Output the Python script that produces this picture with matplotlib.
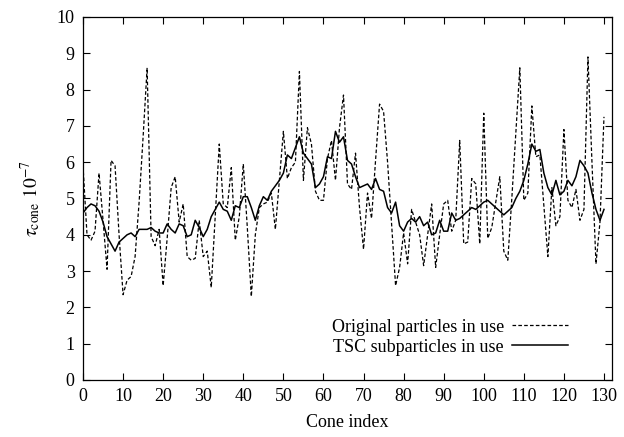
import numpy as np
import matplotlib
matplotlib.use("Agg")
import matplotlib.pyplot as plt

plt.rcParams['font.family'] = ['Liberation Serif', 'DejaVu Serif']
plt.rcParams['mathtext.fontset'] = 'stix'
plt.rcParams['lines.scale_dashes'] = False

original = [5.9, 4.0, 3.85, 4.1, 5.7, 4.4, 3.05, 6.05, 5.9, 4.0,
            2.35, 2.75, 2.85, 3.4, 4.9, 6.7, 8.6, 3.95, 3.7, 4.15,
            2.6, 3.9, 5.3, 5.6, 4.35, 4.85, 3.4, 3.3, 3.35, 4.4,
            3.4, 3.55, 2.55, 4.5, 6.5, 4.85, 4.75, 5.85, 3.85, 4.5,
            5.95, 4.2, 2.3, 4.0, 4.75, 4.85, 4.9, 5.15, 4.15, 5.5,
            6.85, 5.55, 5.85, 6.0, 8.5, 5.5, 6.95, 6.5, 5.2, 4.95,
            4.95, 6.1, 6.6, 5.5, 6.95, 7.85, 5.4, 5.25, 6.25, 4.75,
            3.6, 5.15, 4.45, 6.05, 7.6, 7.4, 6.0, 4.3, 2.6, 3.1,
            4.05, 3.2, 4.7, 4.35, 4.0, 3.15, 4.0, 4.85, 3.1, 4.0,
            4.85, 4.95, 4.1, 4.4, 6.6, 3.75, 3.8, 5.55, 5.4, 3.75,
            7.35, 3.9, 4.2, 4.9, 5.6, 3.55, 3.3, 5.0, 6.8, 8.6,
            4.95, 5.15, 7.55, 6.15, 6.2, 4.8, 3.4, 5.3, 4.25, 4.5,
            6.9, 4.95, 4.75, 5.25, 4.4, 4.7, 8.9, 6.0, 3.2, 4.35,
            7.25]

tsc = [4.6, 4.75, 4.85, 4.8, 4.65, 4.35, 3.95, 3.75, 3.55, 3.8,
       3.9, 4.0, 4.05, 3.95, 4.15, 4.15, 4.15, 4.2, 4.1, 4.05,
       4.05, 4.3, 4.15, 4.05, 4.3, 4.25, 3.95, 4.0, 4.4, 4.2,
       3.95, 4.15, 4.5, 4.7, 4.9, 4.7, 4.65, 4.4, 4.8, 4.75,
       5.05, 5.05, 4.75, 4.4, 4.8, 5.05, 4.95, 5.2, 5.35, 5.5,
       5.7, 6.2, 6.1, 6.4, 6.7, 6.25, 6.1, 5.95, 5.3, 5.4,
       5.6, 6.15, 6.1, 6.85, 6.55, 6.7, 6.05, 5.95, 5.6, 5.3,
       5.35, 5.4, 5.25, 5.55, 5.25, 5.2, 4.75, 4.6, 4.9, 4.25,
       4.1, 4.35, 4.45, 4.35, 4.5, 4.25, 4.35, 4.0, 4.05, 4.4,
       4.1, 4.1, 4.6, 4.4, 4.45, 4.55, 4.65, 4.75, 4.7, 4.8,
       4.9, 4.95, 4.85, 4.75, 4.65, 4.55, 4.65, 4.75, 5.0, 5.2,
       5.5, 5.95, 6.5, 6.3, 6.35, 5.7, 5.3, 5.1, 5.5, 5.1,
       5.2, 5.5, 5.35, 5.6, 6.05, 5.9, 5.7, 5.15, 4.7, 4.4,
       4.7]

x_ticks = list(range(0, 131, 10))
y_ticks = list(range(0, 11))
labels = ["Original particles in use", "TSC subparticles in use"]

fig = plt.figure(figsize=(6.24, 4.37), dpi=100)
ax = fig.add_axes([83/624, 57/437, 529/624, 363/437])

x = np.arange(len(original))
ax.plot(x, original, color='black', lw=0.9, linestyle=(0, (2.6, 1.6)), label=labels[0])
ax.plot(np.arange(len(tsc)), tsc, color='black', lw=1.1, label=labels[1])

ax.set_xlim(0, 132)
ax.set_ylim(0, 10)
ax.set_xticks(x_ticks)
ax.set_yticks(y_ticks)
ax.tick_params(direction='in', length=5, width=0.8, top=True, right=True,
               labelsize=13, pad=6)
for s in ax.spines.values():
    s.set_linewidth(0.9)

ax.set_xlabel("Cone index", fontsize=13, labelpad=6)
ax.set_ylabel(r"$\tau_{\rm cone}\ 10^{-7}$", fontsize=14, labelpad=10)

leg = ax.legend(loc='center right', bbox_to_anchor=(0.917, 0.118), frameon=False,
                markerfirst=False, fontsize=13, handlelength=3.1,
                handletextpad=0.45, labelspacing=0.15, borderpad=0, borderaxespad=0)

fig.savefig("out.png", dpi=100)
